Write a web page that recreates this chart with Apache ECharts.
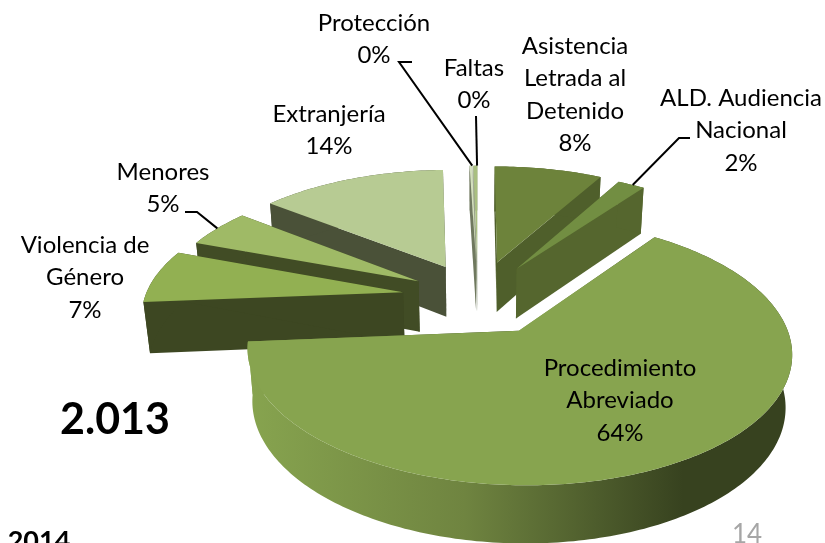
<!DOCTYPE html>
<html>

<head>
    <meta charset="utf-8">
    <title>2.013</title>
    <script src="https://cdn.jsdelivr.net/npm/echarts@6/dist/echarts.min.js"></script>
    <style>
        html, body { margin: 0; padding: 0; background: #fff; }
        #chart { width: 825px; height: 543px; }
    </style>
</head>

<body>
    <div id="chart"></div>

    <script type="text/javascript">
        // values in percent, clockwise from 12 o'clock
        var categories = ['Asistencia\nLetrada al\nDetenido', 'ALD. Audiencia\nNacional', 'Procedimiento\nAbreviado',
            'Violencia de\nGénero', 'Menores', 'Extranjería', 'Protección', 'Faltas'];
        var values = [8.0, 2.0, 63.7, 7.0, 5.0, 13.8, 0.2, 0.3];
        var yearTitle = '2.013';
        var footerLeft = '2014';
        var pageNumber = '14';

        var topColors = ['#6d833b', '#728e42', '#87a44f', '#92b052', '#9fba66', '#b7cb93', '#d3dfbd', '#a9bf80'];
        var sideColors = ['#4f5f2b', '#55662e', null, '#3d4722', '#414c25', '#4a5138', '#70795f', '#9aa38c'];
        var mainSide = ['#87a44f', '#6f8440', '#37421f', '#37421f'];

        // label centre x, first line y
        var labelPos = [[575, 46], [741, 98], [620, 368], [85, 245], [163, 172], [329, 114], [374, 23], [474, 68]];
        // leader start points, the end is on the slice rim
        var leaders = { 1: [[690, 138], [679, 138]], 4: [[185, 212], [197, 212]], 6: [[412, 62], [399, 62]], 7: [[476, 116]] };

        var cx = 478, cy = 297, radX = 258, radY = 120, depth = 52, persp = 0.15, perspZ = 0.02;
        var explode = [0.31, 0.29, 0.31, 0.295, 0.27, 0.29, 0.31, 0.31];
        var total = values.reduce(function (a, b) { return a + b; }, 0);

        var starts = [], acc = 0;
        values.forEach(function (v) { starts.push(acc / total * 360); acc += v; });

        function project(wx, wy, z) {
            var s = 1 / (1 - persp * wy + perspZ * z);
            return [cx + radX * wx * s, cy + (radY * wy + depth * z) * s];
        }

        function sliceGeom(i) {
            var a0 = starts[i], a1 = a0 + values[i] / total * 360, mid = (a0 + a1) / 2 * Math.PI / 180;
            var ex = explode[i] * Math.sin(mid), ey = -explode[i] * Math.cos(mid);
            var rim = [];
            for (var a = a0; ; a += 1) {
                var d = Math.min(a, a1) * Math.PI / 180;
                rim.push([ex + Math.sin(d), ey - Math.cos(d)]);
                if (a >= a1) break;
            }
            return { ex: ex, ey: ey, rim: rim, mid: mid };
        }

        function poly(points, fill) {
            return { type: 'polygon', shape: { points: points }, style: { fill: fill }, silent: true };
        }

        function renderSlice(params, api) {
            var i = api.value(0), g = sliceGeom(i), side = sideColors[i] || {
                type: 'linear', x: 0, y: 0, x2: 1, y2: 0,
                colorStops: [{ offset: 0, color: mainSide[0] }, { offset: 0.4, color: mainSide[1] },
                    { offset: 0.8, color: mainSide[2] }, { offset: 1, color: mainSide[3] }]
            };
            var top = g.rim.map(function (p) { return project(p[0], p[1], 0); });
            var low = g.rim.map(function (p) { return project(p[0], p[1], 1); });
            var apex0 = project(g.ex, g.ey, 0), apex1 = project(g.ex, g.ey, 1);
            var n = top.length - 1;
            return {
                type: 'group',
                children: [
                    poly([apex0, top[0], low[0], apex1], side),
                    poly([apex0, top[n], low[n], apex1], side),
                    poly(top.concat(low.slice().reverse()), side),
                    poly([apex0].concat(top), topColors[i])
                ]
            };
        }

        function renderLabel(params, api) {
            var i = api.value(0), pct = Math.round(api.value(1)) + '%', children = [];
            children.push({
                type: 'text', silent: true,
                style: {
                    x: labelPos[i][0], y: labelPos[i][1] - 16, text: categories[i] + '\n' + pct,
                    font: '24px Lato', lineHeight: 32.5, fill: '#000', align: 'center', verticalAlign: 'top'
                }
            });
            if (leaders[i]) {
                var g = sliceGeom(i), m = g.rim[Math.floor(g.rim.length / 2)];
                children.push({
                    type: 'polyline', silent: true,
                    shape: { points: leaders[i].concat([project(m[0], m[1], 0)]) },
                    style: { stroke: '#000', lineWidth: 2, fill: null }
                });
            }
            return { type: 'group', children: children };
        }

        // back slices first
        var drawOrder = values.map(function (v, i) { return i; }).sort(function (a, b) {
            return sliceGeom(a).ey - sliceGeom(b).ey;
        });

        var chart = echarts.init(document.getElementById('chart'), null, { renderer: 'canvas' });
        chart.setOption({
            animation: false,
            backgroundColor: '#ffffff',
            series: [
                {
                    type: 'custom', coordinateSystem: 'none', silent: true, z: 2,
                    renderItem: renderSlice,
                    data: drawOrder.map(function (i) { return [i, values[i]]; })
                },
                {
                    type: 'custom', coordinateSystem: 'none', silent: true, z: 3,
                    renderItem: renderLabel,
                    data: values.map(function (v, i) { return [i, v]; })
                }
            ],
            graphic: [
                { type: 'text', z: 5, silent: true, style: { x: 115, y: 420, text: yearTitle, font: 'bold 43px Lato', fill: '#000', align: 'center', verticalAlign: 'middle' } },
                { type: 'text', z: 5, silent: true, style: { x: 39, y: 541, text: footerLeft, font: 'bold 27px Lato', fill: '#000', align: 'center', verticalAlign: 'middle' } },
                { type: 'text', z: 5, silent: true, style: { x: 747, y: 535, text: pageNumber, font: '26px Lato', fill: '#a6a6a6', align: 'center', verticalAlign: 'middle' } }
            ]
        });
    </script>
</body>

</html>
